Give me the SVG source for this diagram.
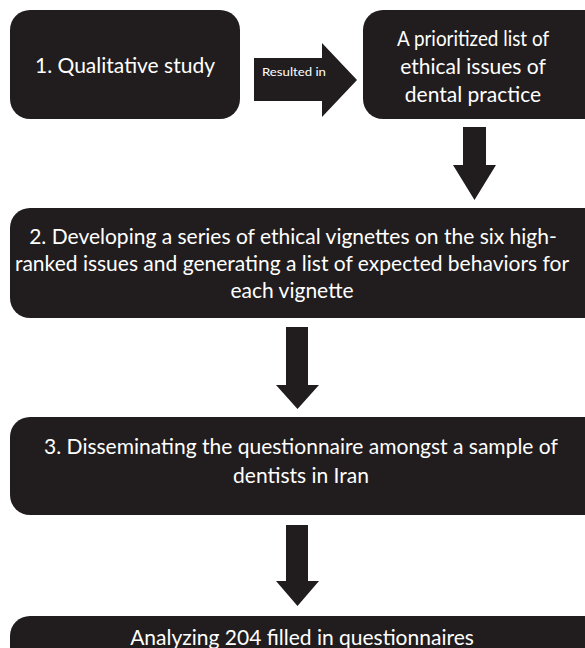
<svg xmlns="http://www.w3.org/2000/svg" width="585" height="648" viewBox="0 0 585 648">
<style>
.box{fill:#211d1e;}
.arr{fill:#211d1e;}
text{font-family:Lato,"Open Sans","Liberation Sans",sans-serif;fill:#ffffff;text-anchor:middle;font-size:21px;}
.sm{font-size:12px;}
</style>
<rect width="585" height="648" fill="#ffffff"/>
<g id="n1"><rect class="box" x="10" y="10" width="230" height="109" rx="20"/><text x="125" y="73">1. Qualitative study</text></g>
<g id="n2"><rect class="box" x="363" y="10" width="240" height="109" rx="20"/><text x="473" y="46" textLength="152" lengthAdjust="spacingAndGlyphs">A prioritized list of</text><text x="473" y="74">ethical issues of</text><text x="473" y="102">dental practice</text></g>
<g id="n3"><rect class="box" x="10" y="208" width="600" height="110" rx="20"/><text x="293" y="244">2. Developing a series of ethical vignettes on the six high-</text><text x="292" y="271">ranked issues and generating a list of expected behaviors for</text><text x="292" y="298">each vignette</text></g>
<g id="n4"><rect class="box" x="10" y="417" width="600" height="98" rx="20"/><text x="301" y="454">3. Disseminating the questionnaire amongst a sample of</text><text x="301" y="483">dentists in Iran</text></g>
<g id="n5"><rect class="box" x="10" y="616" width="600" height="60" rx="20"/><text x="302" y="645">Analyzing 204 filled in questionnaires</text></g>
<g id="connectors">
<polygon class="arr" points="254,58 322,58 322,43 357,80 322,117 322,101 254,101"/>
<text class="sm" x="294" y="76" textLength="64" lengthAdjust="spacingAndGlyphs">Resulted in</text>
<polygon class="arr" points="463,127 486,127 486,165 496,165 474.5,200 453,165 463,165"/>
<polygon class="arr" points="286,327 308,327 308,385 319,385 297.5,409 276,385 286,385"/>
<polygon class="arr" points="286,525 308,525 308,581 319,581 297.5,606 276,581 286,581"/>
</g>
</svg>
